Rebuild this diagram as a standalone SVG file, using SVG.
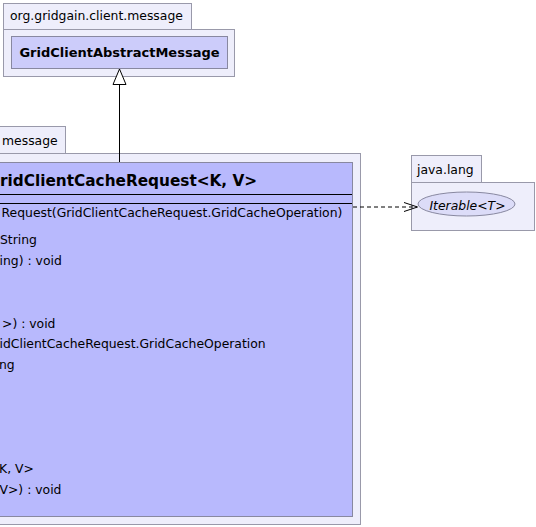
<svg xmlns="http://www.w3.org/2000/svg" width="536" height="527" viewBox="0 0 536 527">
<style>
.pkg{fill:#eeeefb;stroke:#9999aa;stroke-width:1}
.cls{stroke:#8888a0;stroke-width:1}
.t{font-family:"DejaVu Sans","Liberation Sans",sans-serif;font-size:12.4px;fill:#000}
.b{font-family:"DejaVu Sans","Liberation Sans",sans-serif;font-weight:bold;fill:#000}
.sep{stroke:#000;stroke-width:1}
</style>
<rect width="536" height="527" fill="#ffffff"/>
<g id="pkg-client-message">
<rect class="pkg" x="3.5" y="3.5" width="188" height="26"/>
<rect class="pkg" x="3.5" y="29.5" width="231" height="47"/>
<text class="t" x="10" y="20">org.gridgain.client.message</text>
</g>
<g id="GridClientAbstractMessage">
<rect class="cls" x="11.5" y="36.5" width="216" height="32" fill="#ccccfa"/>
<text class="b" x="119.5" y="57" font-size="13" text-anchor="middle">GridClientAbstractMessage</text>
</g>
<g id="pkg-message">
<rect class="pkg" x="-10.5" y="126.5" width="76" height="27"/>
<rect class="pkg" x="-10.5" y="153.5" width="371" height="371"/>
<text class="t" x="2" y="145">message</text>
</g>
<g id="GridClientCacheRequest">
<rect class="cls" x="-10.5" y="162.5" width="363" height="354" fill="#b8b9fd"/>
<text class="b" x="0" y="186" font-size="15.3">ridClientCacheRequest&lt;K, V&gt;</text>
<line class="sep" x1="-10" y1="194.5" x2="352" y2="194.5"/>
<line class="sep" x1="-10" y1="203.5" x2="352" y2="203.5"/>
<text class="t" x="1.5" y="217">Request(GridClientCacheRequest.GridCacheOperation)</text>
<text class="t" x="0" y="244">String</text>
<text class="t" x="-0.5" y="265">ing) : void</text>
<text class="t" x="2" y="327.5">&gt;) : void</text>
<text class="t" x="-0.5" y="348">idClientCacheRequest.GridCacheOperation</text>
<text class="t" x="-1" y="369">ng</text>
<text class="t" x="-1" y="473">K, V&gt;</text>
<text class="t" x="-0.5" y="494">V&gt;) : void</text>
</g>
<g id="pkg-java-lang">
<rect class="pkg" x="411.5" y="155.5" width="70" height="27"/>
<rect class="pkg" x="411.5" y="182.5" width="123" height="48"/>
<text class="t" x="417" y="174">java.lang</text>
</g>
<g id="Iterable">
<ellipse cx="466.5" cy="204" rx="48.5" ry="12" fill="#dcdcf8" stroke="#8888a0" stroke-width="1"/>
<text class="t" x="467.5" y="209.5" font-size="13.6" font-style="italic" text-anchor="middle">Iterable&lt;T&gt;</text>
</g>
<g id="connectors" fill="none" stroke="#000" stroke-width="1">
<line x1="119.5" y1="162" x2="119.5" y2="84.5"/>
<polygon points="119.5,69 113,84.5 126,84.5" fill="#ffffff"/>
<line x1="353" y1="207" x2="417" y2="207" stroke-dasharray="4,3"/>
<polyline points="404,202.5 417.5,207 404,211.5"/>
</g>
</svg>
